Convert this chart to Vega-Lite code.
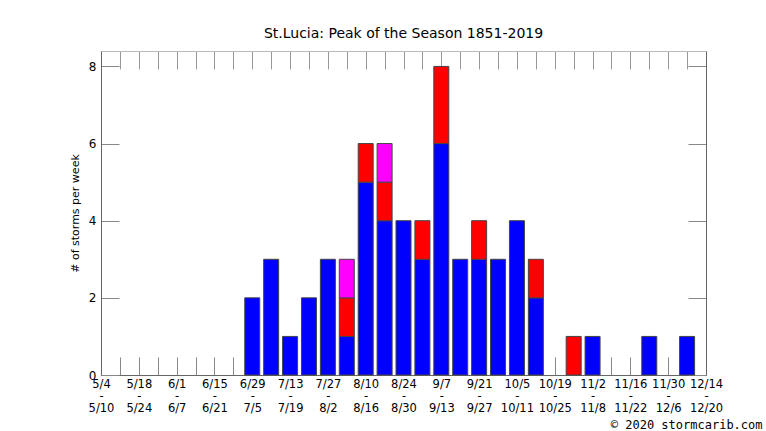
{
  "$schema": "https://vega.github.io/schema/vega-lite/v6.json",
  "width": 605,
  "height": 324,
  "autosize": {"type": "none"},
  "padding": {"left": 101, "top": 51, "right": 60, "bottom": 56},
  "background": "white",
  "title": {"text": "St.Lucia: Peak of the Season 1851-2019", "font": "DejaVu Sans", "fontSize": 14, "fontWeight": "normal", "color": "black", "offset": 10, "anchor": "middle"},
  "config": {
    "view": {"stroke": null},
    "axis": {"labelFont": "DejaVu Sans", "titleFont": "DejaVu Sans", "labelColor": "black", "titleColor": "black", "grid": false, "zindex": 1}
  },
  "datasets": {
    "storms": [
      {"week": "6/29 - 7/5", "series": "Tropical storm", "level": 1, "count": 2},
      {"week": "7/6 - 7/12", "series": "Tropical storm", "level": 1, "count": 3},
      {"week": "7/13 - 7/19", "series": "Tropical storm", "level": 1, "count": 1},
      {"week": "7/20 - 7/26", "series": "Tropical storm", "level": 1, "count": 2},
      {"week": "7/27 - 8/2", "series": "Tropical storm", "level": 1, "count": 3},
      {"week": "8/3 - 8/9", "series": "Tropical storm", "level": 1, "count": 1},
      {"week": "8/3 - 8/9", "series": "Hurricane", "level": 2, "count": 1},
      {"week": "8/3 - 8/9", "series": "Major hurricane", "level": 3, "count": 1},
      {"week": "8/10 - 8/16", "series": "Tropical storm", "level": 1, "count": 5},
      {"week": "8/10 - 8/16", "series": "Hurricane", "level": 2, "count": 1},
      {"week": "8/17 - 8/23", "series": "Tropical storm", "level": 1, "count": 4},
      {"week": "8/17 - 8/23", "series": "Hurricane", "level": 2, "count": 1},
      {"week": "8/17 - 8/23", "series": "Major hurricane", "level": 3, "count": 1},
      {"week": "8/24 - 8/30", "series": "Tropical storm", "level": 1, "count": 4},
      {"week": "8/31 - 9/6", "series": "Tropical storm", "level": 1, "count": 3},
      {"week": "8/31 - 9/6", "series": "Hurricane", "level": 2, "count": 1},
      {"week": "9/7 - 9/13", "series": "Tropical storm", "level": 1, "count": 6},
      {"week": "9/7 - 9/13", "series": "Hurricane", "level": 2, "count": 2},
      {"week": "9/14 - 9/20", "series": "Tropical storm", "level": 1, "count": 3},
      {"week": "9/21 - 9/27", "series": "Tropical storm", "level": 1, "count": 3},
      {"week": "9/21 - 9/27", "series": "Hurricane", "level": 2, "count": 1},
      {"week": "9/28 - 10/4", "series": "Tropical storm", "level": 1, "count": 3},
      {"week": "10/5 - 10/11", "series": "Tropical storm", "level": 1, "count": 4},
      {"week": "10/12 - 10/18", "series": "Tropical storm", "level": 1, "count": 2},
      {"week": "10/12 - 10/18", "series": "Hurricane", "level": 2, "count": 1},
      {"week": "10/26 - 11/1", "series": "Hurricane", "level": 2, "count": 1},
      {"week": "11/2 - 11/8", "series": "Tropical storm", "level": 1, "count": 1},
      {"week": "11/23 - 11/29", "series": "Tropical storm", "level": 1, "count": 1},
      {"week": "12/7 - 12/13", "series": "Tropical storm", "level": 1, "count": 1}
    ]
  },
  "data": {"name": "storms"},
  "layer": [
    {
      "mark": {"type": "bar", "width": 15, "stroke": "#444", "strokeWidth": 1},
      "encoding": {
        "x": {
          "field": "week", "type": "ordinal",
          "scale": {"type": "point", "padding": 0, "domain": [
            "5/4 - 5/10", "5/11 - 5/17", "5/18 - 5/24", "5/25 - 5/31", "6/1 - 6/7", "6/8 - 6/14", "6/15 - 6/21", "6/22 - 6/28",
            "6/29 - 7/5", "7/6 - 7/12", "7/13 - 7/19", "7/20 - 7/26", "7/27 - 8/2", "8/3 - 8/9", "8/10 - 8/16", "8/17 - 8/23",
            "8/24 - 8/30", "8/31 - 9/6", "9/7 - 9/13", "9/14 - 9/20", "9/21 - 9/27", "9/28 - 10/4", "10/5 - 10/11", "10/12 - 10/18",
            "10/19 - 10/25", "10/26 - 11/1", "11/2 - 11/8", "11/9 - 11/15", "11/16 - 11/22", "11/23 - 11/29", "11/30 - 12/6", "12/7 - 12/13", "12/14 - 12/20"
          ]},
          "axis": {
            "orient": "bottom", "tickSize": -18, "tickColor": "#888", "domainColor": "#666",
            "labelAngle": 0, "labelOverlap": false, "labelFontSize": 11.5, "labelLineHeight": 12,
            "labelBaseline": "top", "labelPadding": 21,
            "labelExpr": "round(datum.index*32) % 2 == 0 ? split(datum.label, ' ') : ''",
            "title": "© 2020 stormcarib.com", "titleFont": "DejaVu Sans Mono", "titleFontSize": 12, "titleFontWeight": "normal",
            "titleX": 661, "titleY": 49, "titleAlign": "right", "titleBaseline": "middle", "titleAnchor": null
          }
        },
        "y": {
          "field": "count", "type": "quantitative", "stack": "zero",
          "scale": {"domain": [0, 8.4], "nice": false, "zero": true},
          "axis": {
            "orient": "left", "values": [0, 2, 4, 6, 8], "tickSize": -18, "tickColor": "#888", "domainColor": "#666",
            "labelFontSize": 12, "labelPadding": 23,
            "title": "# of storms per week", "titleFontSize": 11, "titleFontWeight": "normal", "titlePadding": 8
          }
        },
        "color": {
          "field": "series", "type": "nominal",
          "scale": {"domain": ["Tropical storm", "Hurricane", "Major hurricane"], "range": ["#0000ff", "#ff0000", "#ff00ff"]},
          "legend": null
        },
        "order": {"field": "level", "type": "quantitative", "sort": "ascending"}
      }
    },
    {
      "mark": {"type": "bar", "width": 15, "opacity": 0},
      "encoding": {
        "x": {
          "field": "week", "type": "ordinal",
          "axis": {"orient": "top", "tickSize": -18, "tickColor": "#999", "domainColor": "#bbb", "labels": false, "title": null}
        },
        "y": {
          "field": "count", "type": "quantitative", "stack": "zero",
          "axis": {"orient": "right", "values": [0, 2, 4, 6, 8], "tickSize": -18, "tickColor": "#888", "domainColor": "#666", "labels": false, "title": null}
        },
        "color": {"field": "series", "type": "nominal", "legend": null},
        "order": {"field": "level", "type": "quantitative", "sort": "ascending"}
      }
    }
  ],
  "resolve": {"axis": {"x": "independent", "y": "independent"}}
}
